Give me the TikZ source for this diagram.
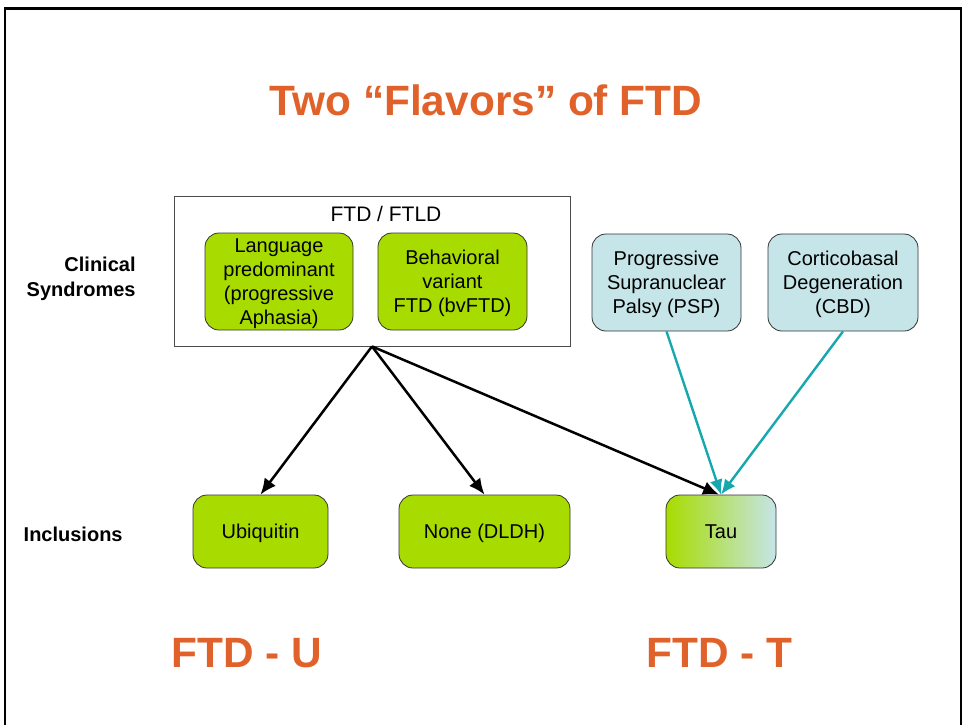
\documentclass[tikz,border=0pt]{standalone}
\usepackage{fontspec}
\setmainfont{Liberation Sans}
\usetikzlibrary{arrows.meta}
\definecolor{ftdgreen}{HTML}{A8DC00}
\definecolor{taucyan}{HTML}{C5E5E8}
\definecolor{ftdorange}{HTML}{E0622A}
\definecolor{arrowteal}{HTML}{17A8AE}
\begin{document}
\begin{tikzpicture}[x=0.5pt,y=-0.5pt,
		box/.style={draw=black!80,rounded corners=7pt,align=center,font=\fontsize{10}{12}\selectfont,inner sep=0pt,text depth=-4pt},
		greenbox/.style={box,fill=ftdgreen},
		cyanbox/.style={box,fill=taucyan},
		sidelabel/.style={font=\fontsize{10}{12.5}\selectfont\bfseries,align=right,anchor=east,inner sep=0pt},
		bigtext/.style={font=\fontsize{21.2}{24}\selectfont\bfseries,text=ftdorange},
		arr/.style={-{Latex[length=8pt,width=7pt]},line width=1.25pt},
		tealarr/.style={-{Latex[length=7.5pt,width=6.5pt]},line width=1.2pt,draw=arrowteal,fill=arrowteal}]
	\useasboundingbox (0,0) rectangle (966,725);
	% slide frame
	\draw[line width=1pt] (5,725) -- (5,8) -- (961,8) -- (961,725);
	\draw[line width=1.5pt] (5,8) -- (961,8);
	% title
	\node[bigtext] (title) at (486,100) {Two “Flavors” of FTD};
	% row labels
	\node[sidelabel] (clin) at (136,279) {Clinical\\Syndromes};
	\node[sidelabel] (incl) at (123,534) {Inclusions};
	% clinical syndromes
	\node[draw=black!70,minimum width=198pt,minimum height=75pt] (ftd) at (372,271) {};
	\node[font=\fontsize{10.5}{12}\selectfont] (ftdlabel) at (386,214) {FTD / FTLD};
	\node[greenbox,minimum width=74pt,minimum height=48.5pt] (lang) at (279,281.5) {Language\\predominant\\(progressive\\Aphasia)};
	\node[greenbox,minimum width=74.5pt,minimum height=48.5pt] (bv) at (452.5,281.5) {Behavioral\\variant\\FTD (bvFTD)};
	\node[cyanbox,minimum width=74.5pt,minimum height=48.5pt] (psp) at (666.5,282.5) {Progressive\\Supranuclear\\Palsy (PSP)};
	\node[cyanbox,minimum width=75pt,minimum height=48.5pt] (cbd) at (843,282.5) {Corticobasal\\Degeneration\\(CBD)};
	% inclusions
	\node[greenbox,minimum width=67.5pt,minimum height=36.5pt] (ubi) at (260.5,531.5) {Ubiquitin};
	\node[greenbox,minimum width=85.5pt,minimum height=36.5pt] (none) at (484.5,531.5) {None (DLDH)};
	\node[box,left color=ftdgreen,right color=taucyan,minimum width=55pt,minimum height=36.5pt] (tau) at (721,531.5) {Tau};
	% arrows
	\draw[arr] (ftd.south) -- (ubi.north);
	\draw[arr] (ftd.south) -- (none.north);
	\draw[arr] (ftd.south) -- ([xshift=-1pt]tau.north);
	\draw[tealarr] (psp.south) -- (tau.north);
	\draw[tealarr] (cbd.south) -- (tau.north);
	% bottom labels
	\node[bigtext] (ftdu) at (247,653) {FTD - U};
	\node[bigtext] (ftdt) at (719.5,653) {FTD - T};
\end{tikzpicture}
\end{document}
